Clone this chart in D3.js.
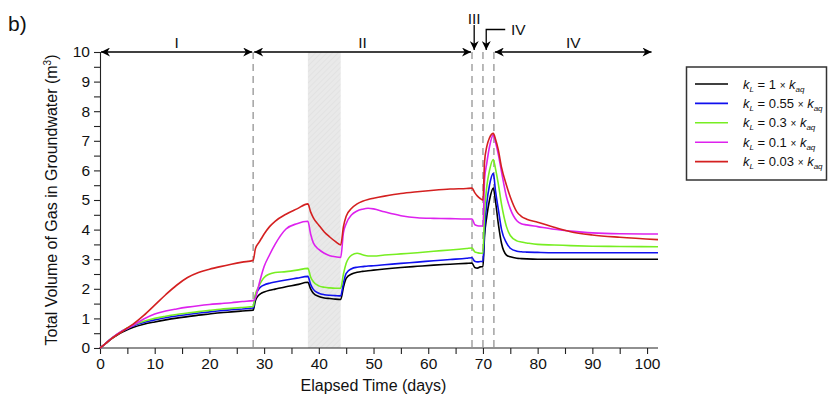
<!DOCTYPE html>
<html>
<head>
<meta charset="utf-8">
<script src="https://cdn.jsdelivr.net/npm/d3@7"></script>
<style>
  html, body { margin: 0; padding: 0; background: #fff; }
  svg { display: block; font-family: "Liberation Sans", Arial, sans-serif; }
</style>
</head>
<body>
<svg id="chart" width="829" height="403"></svg>
<script>
// ---------------- DATA ----------------
const days = [0,1,2,3,4,5,6,8,10,12,14,16,18,20,22,24,26,28,
  28.4,29,29.5,30,31,32,34,36,38,
  38.5,39,40,41,42,43,44,
  44.5,45,46,47,48,49,50,52,55,58,61,64,67,68,
  68.5,69,69.5,70,
  70.3,70.7,71.2,71.9,
  72.3,72.8,73.4,74.3,75,76.2,77,78,80,83,86,90,95,102];

const kL_1 = [0,0.15,0.3,0.42,0.53,0.62,0.69,0.8,0.88,0.95,1.01,1.06,1.11,1.15,1.19,1.22,1.25,1.28,
  1.6,1.78,1.85,1.89,1.95,1.99,2.07,2.14,2.22,
  2.0,1.85,1.74,1.69,1.67,1.65,1.64,
  2.05,2.35,2.5,2.56,2.59,2.61,2.63,2.67,2.72,2.76,2.8,2.83,2.86,2.87,
  2.72,2.7,2.74,2.75,
  3.8,4.44,5.0,5.4,
  4.95,4.21,3.53,3.14,3.08,3.03,3.02,3.01,3.0,3.0,3.0,3.0,3.0,3.0];

const kL_055 = [0,0.15,0.31,0.44,0.56,0.66,0.74,0.86,0.95,1.02,1.08,1.13,1.18,1.22,1.26,1.29,1.32,1.35,
  1.75,1.98,2.08,2.13,2.19,2.23,2.3,2.36,2.42,
  2.15,1.98,1.85,1.8,1.78,1.77,1.76,
  2.2,2.52,2.68,2.73,2.75,2.77,2.78,2.81,2.86,2.9,2.95,2.99,3.03,3.05,
  2.93,2.91,2.92,2.93,
  4.0,4.89,5.5,5.9,
  5.3,4.7,4.0,3.55,3.37,3.27,3.25,3.24,3.23,3.22,3.22,3.22,3.22,3.22];

const kL_03 = [0,0.15,0.31,0.44,0.57,0.68,0.77,0.9,1.0,1.07,1.13,1.18,1.23,1.27,1.31,1.34,1.37,1.4,
  1.8,2.07,2.25,2.38,2.5,2.55,2.58,2.63,2.69,
  2.4,2.24,2.1,2.05,2.03,2.02,2.02,
  2.5,2.86,3.14,3.2,3.15,3.11,3.11,3.14,3.18,3.22,3.27,3.31,3.36,3.38,
  3.25,3.22,3.2,3.2,
  4.6,5.45,6.0,6.37,
  6.05,5.55,4.85,4.1,3.8,3.62,3.58,3.55,3.5,3.48,3.46,3.44,3.43,3.42];

const kL_01 = [0,0.15,0.31,0.45,0.58,0.66,0.76,0.98,1.15,1.25,1.32,1.38,1.43,1.47,1.5,1.53,1.57,1.6,
  1.68,2.1,2.45,2.75,3.15,3.5,4.02,4.2,4.28,
  3.85,3.55,3.33,3.2,3.12,3.08,3.06,
  3.9,4.2,4.5,4.63,4.69,4.72,4.7,4.6,4.47,4.4,4.38,4.37,4.36,4.36,
  4.17,4.13,4.12,4.12,
  5.7,6.24,6.8,7.2,
  6.95,6.55,5.95,5.11,4.7,4.3,4.2,4.16,4.1,4.01,3.95,3.89,3.86,3.85];

const kL_003 = [0,0.15,0.3,0.43,0.55,0.68,0.8,1.1,1.45,1.8,2.12,2.38,2.55,2.66,2.75,2.83,2.9,2.96,
  3.35,3.55,3.7,3.85,4.1,4.28,4.52,4.7,4.87,
  4.6,4.4,4.15,3.92,3.75,3.6,3.48,
  4.1,4.45,4.72,4.87,4.96,5.02,5.06,5.13,5.22,5.28,5.33,5.37,5.39,5.4,
  5.25,5.13,5.05,5.0,
  6.3,6.8,7.1,7.25,
  7.05,6.7,6.1,5.5,5.1,4.6,4.45,4.35,4.25,4.08,3.93,3.82,3.74,3.66];

const seriesNames = ["1", "0.55", "0.3", "0.1", "0.03"];
const seriesColors = ["#000000", "#1010ee", "#77ee22", "#dd22ee", "#d42020"];
const seriesValues = [kL_1, kL_055, kL_03, kL_01, kL_003];

const xTicks = [0,10,20,30,40,50,60,70,80,90,100];
const yTicks = [0,1,2,3,4,5,6,7,8,9,10];
const phaseBounds = [28, 68, 70, 72];
const shadedRange = [38, 44];
const phaseSpans = [ {label:"I", from:0, to:28}, {label:"II", from:28, to:68}, {label:"IV", from:72, to:101} ];

// ---------------- CHART ----------------
const svg = d3.select("#chart");
const x = d3.scaleLinear().domain([0, 102]).range([100, 658]);
const y = d3.scaleLinear().domain([0, 10]).range([348, 52]);

const defs = svg.append("defs");
const pat = defs.append("pattern").attr("id", "hatch").attr("patternUnits", "userSpaceOnUse")
  .attr("width", 4).attr("height", 4).attr("patternTransform", "rotate(45)");
pat.append("rect").attr("width", 4).attr("height", 4).attr("fill", "#e9e9e9");
pat.append("line").attr("x1", 0).attr("y1", 0).attr("x2", 0).attr("y2", 4)
  .attr("stroke", "#dcdcdc").attr("stroke-width", 1);

defs.append("marker").attr("id", "arrow").attr("viewBox", "0 0 10 10")
  .attr("refX", 10).attr("refY", 5).attr("markerWidth", 10).attr("markerHeight", 9)
  .attr("markerUnits", "userSpaceOnUse").attr("orient", "auto-start-reverse")
  .append("path").attr("d", "M0,0 L10,5 L0,10 L3,5 Z").attr("fill", "#000");

// shaded band
svg.append("rect")
  .attr("x", x(shadedRange[0])).attr("y", y(10))
  .attr("width", x(shadedRange[1]) - x(shadedRange[0]))
  .attr("height", y(0) - y(10))
  .attr("fill", "url(#hatch)");

// dashed phase boundaries
svg.selectAll(".pb").data(phaseBounds).enter().append("line")
  .attr("x1", d => x(d)).attr("x2", d => x(d))
  .attr("y1", y(10)).attr("y2", y(0))
  .attr("stroke", "#a8a8a8").attr("stroke-width", 1.6)
  .attr("stroke-dasharray", "7,5");

// axes
const xAxis = d3.axisBottom(x).tickValues(d3.range(0, 101, 5))
  .tickFormat(d => d % 10 === 0 ? d : "").tickSizeOuter(0).tickSize(6).tickPadding(4);
const gx = svg.append("g").attr("transform", `translate(0,${y(0)})`).call(xAxis);
gx.select(".domain").attr("d", `M${x(0)},0H${x(102)}`);

const yAxis = d3.axisLeft(y).tickValues(d3.range(0, 10.01, 0.5))
  .tickFormat(d => Number.isInteger(d) ? d : "").tickSizeOuter(0).tickSize(6).tickPadding(4);
const gy = svg.append("g").attr("transform", `translate(${x(0)},0)`).call(yAxis);

[gx, gy].forEach(g => {
  g.selectAll("text").attr("font-size", 15.5).attr("fill", "#111").attr("font-family", "Liberation Sans, Arial, sans-serif");
  g.selectAll("line, path").attr("stroke", "#222").attr("stroke-width", 1.1);
});

// axis titles
svg.append("text").attr("x", (x(0) + x(100)) / 2).attr("y", 391)
  .attr("text-anchor", "middle").attr("font-size", 16).attr("fill", "#111")
  .text("Elapsed Time (days)");
const yt = svg.append("text").attr("transform", `translate(57,${(y(0) + y(10)) / 2}) rotate(-90)`)
  .attr("text-anchor", "middle").attr("font-size", 16).attr("fill", "#111");
yt.append("tspan").text("Total Volume of Gas in Groundwater (m");
yt.append("tspan").attr("font-size", 10).attr("dy", -6).text("3");
yt.append("tspan").attr("dy", 6).text(")");

// panel label
svg.append("text").attr("x", 8).attr("y", 31).attr("font-size", 21).attr("fill", "#111").text("b)");

// curves
const line = d3.line().x((d, i) => x(days[i])).y(d => y(d)).curve(d3.curveMonotoneX);
seriesValues.forEach((vals, k) => {
  svg.append("path").datum(vals).attr("d", line)
    .attr("fill", "none").attr("stroke", seriesColors[k]).attr("stroke-width", 1.6);
});

// phase arrows
const ay = y(10);
phaseSpans.forEach(s => {
  svg.append("line").attr("x1", x(s.from) + 1).attr("x2", x(s.to) - 1)
    .attr("y1", ay).attr("y2", ay).attr("stroke", "#000").attr("stroke-width", 1.3)
    .attr("marker-start", "url(#arrow)").attr("marker-end", "url(#arrow)");
  svg.append("text").attr("x", x((s.from + s.to) / 2)).attr("y", 48)
    .attr("text-anchor", "middle").attr("font-size", 15.5).attr("fill", "#111").text(s.label);
});
// III vertical arrow
svg.append("line").attr("x1", x(68.4)).attr("x2", x(68.4)).attr("y1", 25).attr("y2", 50)
  .attr("stroke", "#000").attr("stroke-width", 1.3).attr("marker-end", "url(#arrow)");
svg.append("text").attr("x", x(68.4)).attr("y", 24).attr("text-anchor", "middle")
  .attr("font-size", 15.5).attr("fill", "#111").text("III");
// IV bent arrow
svg.append("path").attr("d", `M${x(70.6) + 19},29.5 H${x(70.6)} V50`)
  .attr("fill", "none").attr("stroke", "#000").attr("stroke-width", 1.3).attr("marker-end", "url(#arrow)");
svg.append("text").attr("x", x(70.6) + 32).attr("y", 35).attr("text-anchor", "middle")
  .attr("font-size", 15.5).attr("fill", "#111").text("IV");

// legend
const lg = svg.append("g");
lg.append("rect").attr("x", 686.5).attr("y", 67).attr("width", 140).attr("height", 113)
  .attr("fill", "#fff").attr("stroke", "#333").attr("stroke-width", 1.5);
seriesNames.forEach((n, k) => {
  const cy = 84 + k * 19.4;
  lg.append("line").attr("x1", 695).attr("x2", 728).attr("y1", cy).attr("y2", cy)
    .attr("stroke", seriesColors[k]).attr("stroke-width", 1.6);
  const t = lg.append("text").attr("x", 743).attr("y", cy + 4.5).attr("font-size", 13).attr("fill", "#111");
  t.append("tspan").attr("font-style", "italic").text("k");
  t.append("tspan").attr("font-style", "italic").attr("font-size", 8).attr("dy", 3).text("L");
  t.append("tspan").attr("dy", -3).text(" = " + n + " ");
  t.append("tspan").attr("font-size", 10).text("×");
  t.append("tspan").attr("font-style", "italic").text(" k");
  t.append("tspan").attr("font-style", "italic").attr("font-size", 8).attr("dy", 3).text("aq");
});
</script>
</body>
</html>
